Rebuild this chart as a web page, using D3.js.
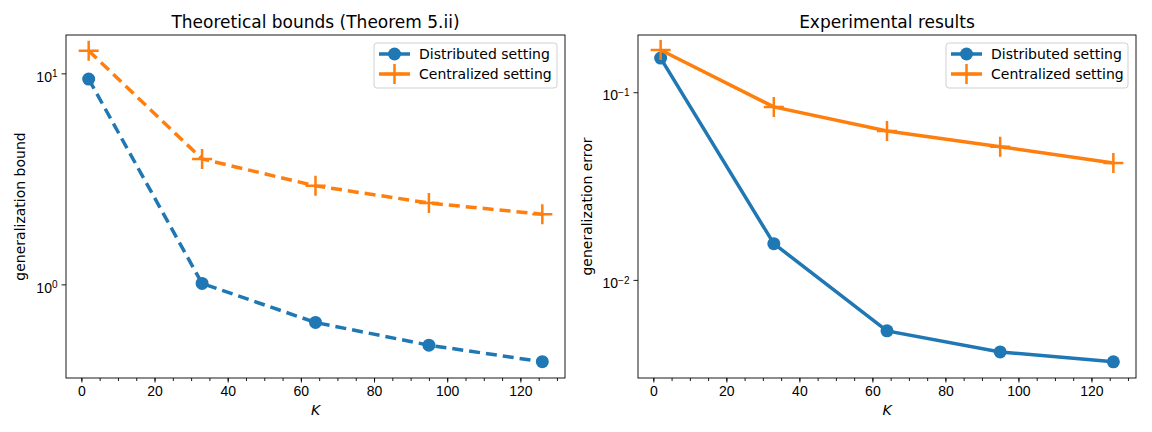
<!DOCTYPE html>
<html>
<head>
<meta charset="utf-8">
<script src="https://cdn.jsdelivr.net/npm/d3@7"></script>
<style>
  body { margin: 0; background: #fff; }
  svg { font-family: "DejaVu Sans", sans-serif; }
  .axis text { font-size: 14px; fill: #000; }
  .axis path, .axis line { stroke: #000; stroke-width: 0.9; }
</style>
</head>
<body>
<div id="chart"></div>
<script>
// data
const K = [2, 33, 64, 95, 126];
const boundDistributed = [9.4, 1.01, 0.66, 0.515, 0.43];
const boundCentralized = [12.8, 3.93, 2.93, 2.43, 2.15];
const errDistributed = [0.152, 0.0156, 0.00535, 0.00413, 0.00366];
const errCentralized = [0.168, 0.0835, 0.0622, 0.0512, 0.042];
const xTicks = [0, 20, 40, 60, 80, 100, 120];
const xMinorTicks = d3.range(0, 131, 5);
const seriesNames = ["Distributed setting", "Centralized setting"];

const blue = "#1f77b4", orange = "#ff7f0e";
const W = 1152, H = 432;

const svg = d3.select("#chart").append("svg")
    .attr("width", W)
    .attr("height", H);

const panels = [
    { left: 66, right: 565, top: 35, bottom: 378,
      title: "Theoretical bounds (Theorem 5.ii)", ylabel: "generalization bound", ylabelX: 20,
      yDomain: [0.36, 15.2], yTicks: [0, 1], dist: boundDistributed, cent: boundCentralized,
      dash: "11,6", legendX: 374 },
    { left: 638, right: 1136, top: 35, bottom: 378,
      title: "Experimental results", ylabel: "generalization error", ylabelX: 587,
      yDomain: [0.0030, 0.2018], yTicks: [-2, -1], dist: errDistributed, cent: errCentralized,
      dash: null, legendX: 946 }
];

function plusPath(cx, cy, s) {
    return `M${cx - s},${cy}H${cx + s}M${cx},${cy - s}V${cy + s}`;
}

panels.forEach(p => {
    const x = d3.scaleLinear([-4.2, 132.2], [p.left, p.right]);
    const y = d3.scaleLog(p.yDomain, [p.bottom, p.top]);
    const g = svg.append("g");

    // x axis minor then major
    g.append("g")
        .attr("class", "axis")
        .attr("transform", `translate(0,${p.bottom})`)
        .call(d3.axisBottom(x).tickValues(xMinorTicks).tickSize(3).tickFormat(""))
        .call(a => a.select(".domain").remove());
    g.append("g")
        .attr("class", "axis")
        .attr("transform", `translate(0,${p.bottom})`)
        .call(d3.axisBottom(x).tickValues(xTicks).tickSize(4.5).tickPadding(4).tickSizeOuter(0))
        .call(a => a.select(".domain").remove());

    // y axis (log, decade labels)
    const ya = g.append("g")
        .attr("class", "axis")
        .attr("transform", `translate(${p.left},0)`)
        .call(d3.axisLeft(y).tickValues(p.yTicks.map(e => Math.pow(10, e))).tickSize(4.5).tickPadding(4).tickFormat(""))
        .call(a => a.select(".domain").remove());
    ya.selectAll(".tick text").each(function(d) {
        const t = d3.select(this);
        const e = Math.round(Math.log10(d));
        t.append("tspan").text("10");
        t.append("tspan").attr("dy", "-0.45em").style("font-size", "10px").text(String(e).replace("-", "\u2212"));
        t.attr("dy", "0.55em");
    });

    // frame
    g.append("rect")
        .attr("x", p.left).attr("y", p.top)
        .attr("width", p.right - p.left).attr("height", p.bottom - p.top)
        .attr("fill", "none").attr("stroke", "#000").attr("stroke-width", 0.9);

    // lines
    const series = [
        { vals: p.dist, color: blue, marker: "circle" },
        { vals: p.cent, color: orange, marker: "plus" }
    ];
    const line = d3.line().x(d => x(d[0])).y(d => y(d[1]));
    series.forEach(s => {
        const pts = K.map((k, i) => [k, s.vals[i]]);
        g.append("path")
            .datum(pts)
            .attr("d", line)
            .attr("fill", "none")
            .attr("stroke", s.color)
            .attr("stroke-width", 3.5)
            .attr("stroke-dasharray", p.dash);
        if (s.marker === "circle") {
            g.selectAll(null).data(pts).join("circle")
                .attr("cx", d => x(d[0])).attr("cy", d => y(d[1]))
                .attr("r", 6.5).attr("fill", s.color);
        } else {
            g.selectAll(null).data(pts).join("path")
                .attr("d", d => plusPath(x(d[0]), y(d[1]), 10))
                .attr("stroke", s.color).attr("stroke-width", 2.5).attr("fill", "none");
        }
    });

    // title and labels
    g.append("text")
        .attr("x", (p.left + p.right) / 2).attr("y", 28)
        .attr("text-anchor", "middle").style("font-size", "17px")
        .text(p.title);
    g.append("text")
        .attr("transform", `translate(${p.ylabelX},${(p.top + p.bottom) / 2}) rotate(-90)`)
        .attr("text-anchor", "middle").attr("dy", "0.35em").style("font-size", "14px")
        .text(p.ylabel);
    g.append("text")
        .attr("x", (p.left + p.right) / 2).attr("y", 415)
        .attr("text-anchor", "middle").style("font-size", "14px").style("font-style", "italic")
        .text("K");

    // legend
    const lx = p.legendX, lw = p.right - 8 - lx;
    g.append("rect")
        .attr("x", lx).attr("y", 43).attr("width", lw).attr("height", 45)
        .attr("rx", 3).attr("fill", "#fff").attr("fill-opacity", 0.8)
        .attr("stroke", "#ccc").attr("stroke-width", 0.9);
    seriesNames.forEach((name, i) => {
        const cy = 54 + i * 20;
        const hx0 = lx + 5, hx1 = lx + 36, hc = (hx0 + hx1) / 2;
        g.append("line")
            .attr("x1", hx0).attr("x2", hx1).attr("y1", cy).attr("y2", cy)
            .attr("stroke", i === 0 ? blue : orange).attr("stroke-width", 3.5);
        if (i === 0) {
            g.append("circle").attr("cx", hc).attr("cy", cy).attr("r", 6.5).attr("fill", blue);
        } else {
            g.append("path").attr("d", plusPath(hc, cy, 10))
                .attr("stroke", orange).attr("stroke-width", 2.5).attr("fill", "none");
        }
        g.append("text")
            .attr("x", lx + 45).attr("y", cy).attr("dy", "0.35em")
            .style("font-size", "14px")
            .text(name);
    });
});
</script>
</body>
</html>
